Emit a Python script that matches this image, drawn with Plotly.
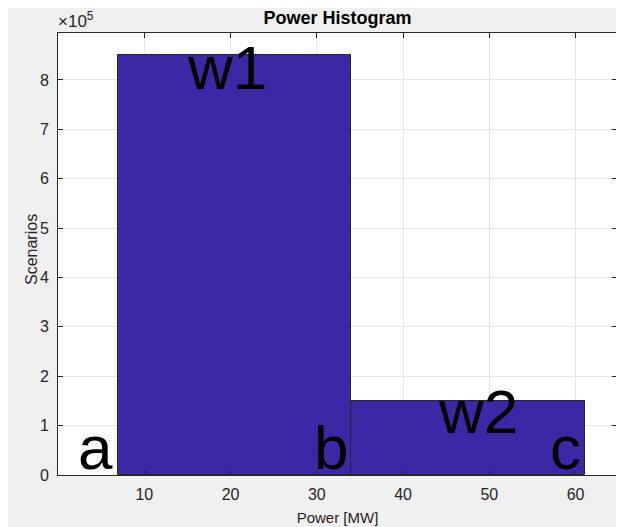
import plotly.graph_objects as go

# Data
bin_edges = [6.9, 34.0, 61.1]
counts = [850000, 150000]
x_ticks = [10, 20, 30, 40, 50, 60]
y_ticks = [0, 100000, 200000, 300000, 400000, 500000, 600000, 700000, 800000]
y_tick_labels = ["0", "1", "2", "3", "4", "5", "6", "7", "8"]
label_texts = ["w1", "w2", "a", "b", "c"]
label_x = [19.6, 48.7, 4.35, 31.7, 58.8]
label_y = [825000, 128000, 55000, 55000, 55000]

centers = [(bin_edges[i] + bin_edges[i + 1]) / 2 for i in range(len(counts))]
widths = [bin_edges[i + 1] - bin_edges[i] for i in range(len(counts))]

FONT = "Liberation Sans, Arial, Helvetica"
TXT = "#262626"

# page body has an 8px margin; figure sized so the plot lands where the reference has it
W, H = 616, 519

fig = go.Figure()
fig.add_trace(go.Bar(
    x=centers, y=counts, width=widths,
    marker=dict(color="#3c28a5", line=dict(color="#262626", width=1)),
    hoverinfo="skip",
))

for t, xx, yy in zip(label_texts, label_x, label_y):
    fig.add_annotation(x=xx, y=yy, text=t, showarrow=False,
                       xanchor="center", yanchor="middle",
                       font=dict(family=FONT, size=62, color="black"))

fig.add_annotation(xref="paper", yref="paper", x=0, y=1, xanchor="left", yanchor="bottom",
                   text="×10<sup>5</sup>", showarrow=False, yshift=0, xshift=-2,
                   font=dict(family=FONT, size=17, color=TXT))

fig.add_annotation(xref="paper", yref="paper", x=0, y=0.5, xanchor="center", yanchor="middle",
                   text="Scenarios", textangle=-90, showarrow=False, xshift=-27, yshift=4,
                   font=dict(family=FONT, size=16, color=TXT))

axis_common = dict(
    showline=True, linecolor=TXT, linewidth=1, mirror="ticks",
    ticks="inside", ticklen=5, tickcolor=TXT,
    showgrid=True, gridcolor="#e6e6e6", gridwidth=1, zeroline=False,
    tickfont=dict(family=FONT, size=16, color=TXT),
    automargin=False,
)

fig.update_layout(
    width=W, height=H,
    margin=dict(l=50, r=7, t=25, b=52),
    paper_bgcolor="#f0f0f0", plot_bgcolor="white",
    showlegend=False,
    title=dict(text="<b>Power Histogram</b>", x=329.5 / W, xref="container", xanchor="center",
               y=1 - 9.5 / H, yref="container", yanchor="middle", automargin=False,
               font=dict(family=FONT, size=18, color="black")),
    xaxis=dict(range=[0, 64.8], tickvals=x_ticks, ticklabelstandoff=5,
               title=dict(text="Power [MW]", standoff=10,
                          font=dict(family=FONT, size=15, color=TXT)),
               **axis_common),
    yaxis=dict(range=[0, 895000], tickvals=y_ticks, ticktext=y_tick_labels, ticklabelstandoff=5,
               **axis_common),
    bargap=0,
)

fig.write_html("out.html")
